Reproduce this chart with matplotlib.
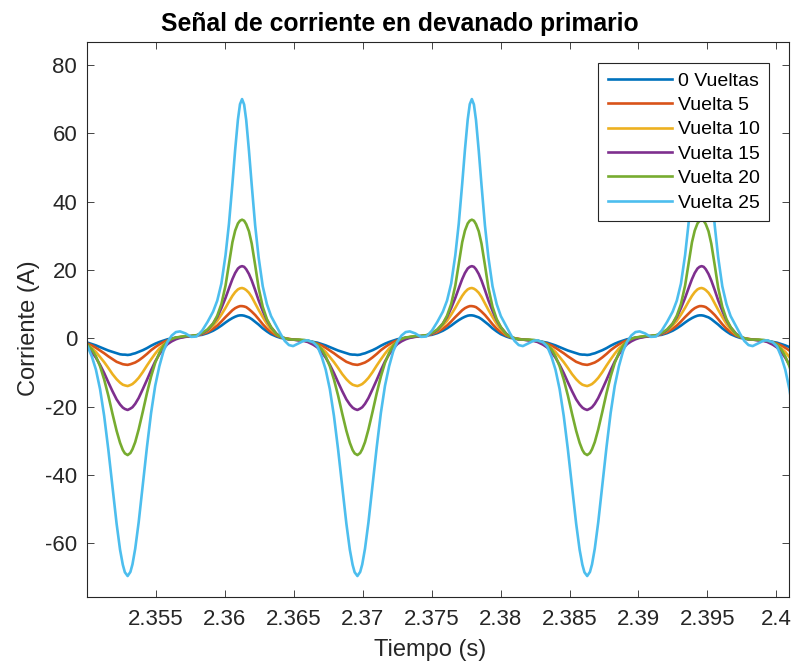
import numpy as np
import matplotlib.pyplot as plt

plt.rcParams['font.family'] = ['Liberation Sans', 'DejaVu Sans']
plt.rcParams['axes.unicode_minus'] = False

# one cycle of each current waveform
# time in ms measured from the negative peak of the cycle
tau_ms = [-3.6, -3.2, -2.9, -2.6, -2.3, -2.0, -1.7, -1.4, -1.1, -0.8,
          -0.55, -0.35, -0.2, 0.0, 0.2, 0.35, 0.55, 0.8, 1.1, 1.4,
          1.7, 2.0, 2.3, 2.6, 2.9, 3.2, 3.5, 3.8, 4.2, 4.6,
          5.0, 5.4, 5.8, 6.2, 6.5, 6.8, 7.1, 7.35, 7.6, 7.8,
          8.0, 8.15, 8.3, 8.45, 8.6, 8.8, 9.0, 9.25, 9.5, 9.8,
          10.1, 10.4, 10.8, 11.1, 11.4, 11.7, 12.0, 12.4, 12.8]

i_0 = [-0.8, -1.1, -1.3, -1.7, -2.1, -2.6, -3.1, -3.6, -4.0, -4.4,
       -4.7, -4.8, -4.8, -4.9, -4.8, -4.6, -4.4, -4.0, -3.5, -2.9,
       -2.2, -1.6, -1.1, -0.7, -0.3, -0.1, 0.2, 0.3, 0.5, 0.6,
       0.8, 1.0, 1.5, 2.2, 2.9, 3.7, 4.6, 5.3, 5.9, 6.3,
       6.6, 6.7, 6.7, 6.6, 6.4, 6.1, 5.6, 4.8, 4.0, 2.9,
       2.0, 1.2, 0.5, 0.1, -0.1, -0.3, -0.4, -0.5, -0.7]
i_5 = [-0.8, -1.2, -1.6, -2.1, -2.8, -3.6, -4.4, -5.3, -6.1, -6.9,
       -7.3, -7.6, -7.7, -7.8, -7.6, -7.4, -7.1, -6.5, -5.6, -4.6,
       -3.5, -2.6, -1.8, -1.1, -0.6, -0.2, 0.1, 0.3, 0.5, 0.6,
       0.8, 1.2, 1.8, 2.8, 3.7, 4.9, 6.2, 7.2, 8.2, 8.8,
       9.2, 9.4, 9.4, 9.3, 9.1, 8.5, 7.8, 6.8, 5.6, 4.1,
       2.8, 1.8, 0.8, 0.3, 0.0, -0.2, -0.4, -0.5, -0.7]
i_10 = [-0.9, -1.4, -2.0, -2.9, -4.0, -5.5, -7.0, -8.7, -10.5, -12.0,
        -13.0, -13.6, -13.8, -14.0, -13.7, -13.4, -12.7, -11.6, -9.9, -8.0,
        -6.2, -4.5, -3.0, -1.9, -1.0, -0.4, 0.0, 0.3, 0.5, 0.6,
        0.8, 1.3, 2.2, 3.7, 5.1, 6.9, 8.9, 10.7, 12.4, 13.5,
        14.3, 14.6, 14.7, 14.5, 14.1, 13.3, 12.1, 10.2, 8.3, 6.2,
        4.2, 2.6, 1.1, 0.4, 0.0, -0.2, -0.4, -0.5, -0.7]
i_15 = [-1.1, -1.9, -2.7, -4.0, -5.7, -7.8, -10.2, -12.9, -15.5, -17.9,
        -19.4, -20.3, -20.7, -21.0, -20.6, -20.2, -19.2, -17.5, -14.9, -12.2,
        -9.4, -6.8, -4.7, -3.0, -1.7, -0.9, -0.3, 0.1, 0.4, 0.6,
        0.8, 1.3, 2.4, 4.3, 6.2, 8.8, 11.8, 14.6, 17.3, 19.1,
        20.4, 20.9, 21.1, 20.9, 20.2, 18.8, 16.9, 14.1, 11.1, 8.0,
        5.3, 3.2, 1.3, 0.4, -0.1, -0.3, -0.4, -0.6, -0.8]
i_20 = [-0.7, -1.2, -1.9, -3.2, -5.3, -8.2, -12.1, -16.8, -22.1, -27.1,
        -30.6, -32.7, -33.7, -34.2, -33.6, -32.5, -30.4, -26.7, -21.5, -16.1,
        -11.2, -7.2, -4.3, -2.2, -0.9, -0.2, 0.2, 0.4, 0.6, 0.7,
        0.9, 1.5, 2.6, 4.3, 6.6, 10.0, 15.4, 21.8, 28.1, 31.5,
        33.6, 34.4, 34.7, 34.4, 33.4, 31.3, 27.7, 21.4, 14.8, 9.2,
        5.6, 3.3, 1.2, 0.4, 0.0, -0.3, -0.4, -0.4, -0.5]
i_25 = [-0.6, -1.2, -2.4, -5.3, -9.2, -14.9, -22.8, -32.6, -43.5, -54.3,
        -61.9, -66.3, -68.5, -69.6, -68.4, -66.2, -61.6, -53.9, -43.0, -31.9,
        -21.9, -13.9, -8.2, -3.8, -1.0, 0.8, 1.8, 2.0, 1.4, 0.4,
        0.5, 2.2, 4.8, 7.8, 11.0, 16.0, 24.3, 33.5, 45.2, 55.2,
        64.0, 68.5, 70.0, 68.4, 63.9, 54.9, 44.9, 33.0, 23.7, 15.2,
        10.0, 6.5, 3.5, 1.2, -0.8, -2.0, -2.3, -1.5, -0.7]

labels = ['0 Vueltas', 'Vuelta 5', 'Vuelta 10', 'Vuelta 15', 'Vuelta 20', 'Vuelta 25']
colors = ['#0072BD', '#D95319', '#EDB120', '#7E2F8E', '#77AC30', '#4DBEEE']

t_first_trough = 2.35295  # s
period = 1 / 60.0  # 60 Hz
n_cycles = 4

x_ticks = [2.355, 2.36, 2.365, 2.37, 2.375, 2.38, 2.385, 2.39, 2.395, 2.4]
x_tick_labels = ['2.355', '2.36', '2.365', '2.37', '2.375', '2.38', '2.385', '2.39', '2.395', '2.4']
y_ticks = [-60, -40, -20, 0, 20, 40, 60, 80]


def repeat_cycle(values):
    # the signal is periodic, so lay the same cycle down once per period
    t = []
    v = []
    for k in range(n_cycles):
        t += [t_first_trough + k * period + x / 1000.0 for x in tau_ms]
        v += list(values)
    return np.array(t), np.array(v)


fig = plt.figure(figsize=(7.92, 6.65), dpi=100)
ax = fig.add_axes([0.1098, 0.1030, 0.8864, 0.8343])

for vals, lab, col in zip([i_0, i_5, i_10, i_15, i_20, i_25], labels, colors):
    t, v = repeat_cycle(vals)
    ax.plot(t, v, color=col, linewidth=1.9, label=lab, solid_joinstyle='round')

ax.set_xlim(2.35, 2.40092)
ax.set_ylim(-75.6, 86.8)
ax.set_xticks(x_ticks)
ax.set_xticklabels(x_tick_labels)
ax.set_yticks(y_ticks)
ax.set_yticklabels([str(y) for y in y_ticks])

ax.tick_params(direction='in', length=5, width=0.6, top=True, right=True,
               labelsize=16, colors='#262626')
ax.tick_params(axis='x', pad=9)
ax.tick_params(axis='y', pad=7)
for s in ax.spines.values():
    s.set_color('#262626')
    s.set_linewidth(0.8)

ax.set_xlabel('Tiempo (s)', fontsize=17, color='#262626')
ax.set_ylabel('Corriente (A)', fontsize=17, color='#262626')
ax.xaxis.set_label_coords(0.4886, -0.076)
ax.yaxis.set_label_coords(-0.067, 0.484)

fig.text(0.505, 0.9534, 'Señal de corriente en devanado primario', fontsize=17.8,
         fontweight='bold', ha='center', va='baseline')

leg = ax.legend(loc='upper right', bbox_to_anchor=(0.9715, 0.9622), borderaxespad=0,
                fontsize=14, fancybox=False, framealpha=1, edgecolor='#262626',
                handlelength=3.3, handletextpad=0.3, labelspacing=0.35, borderpad=0.48)
leg.get_frame().set_linewidth(0.8)

fig.savefig('out.png', dpi=100)
